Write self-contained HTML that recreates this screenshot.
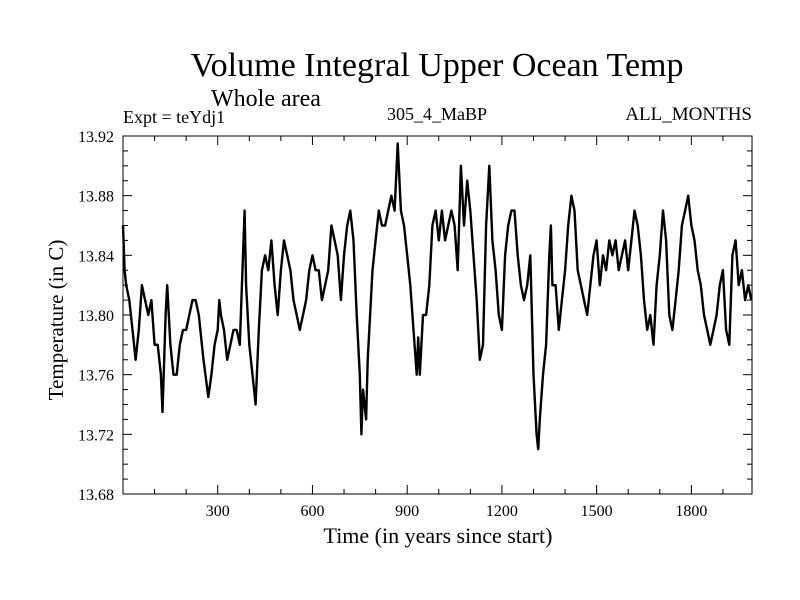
<!DOCTYPE html>
<html><head><meta charset="utf-8"><style>
html,body{margin:0;padding:0;background:#fff}
svg{display:block}
text{font-family:"Liberation Serif",serif;fill:#000}
</style></head><body>
<svg id="chart" width="800" height="600" viewBox="0 0 800 600" xmlns="http://www.w3.org/2000/svg">
<text x="437" y="76" font-size="34" text-anchor="middle">Volume Integral Upper Ocean Temp</text>
<text x="266" y="106" font-size="24" text-anchor="middle">Whole area</text>
<text x="123" y="123" font-size="18">Expt = teYdj1</text>
<text x="437" y="120" font-size="18" text-anchor="middle">305_4_MaBP</text>
<text x="752" y="120" font-size="19" text-anchor="end">ALL_MONTHS</text>
<text x="438" y="543" font-size="22" text-anchor="middle">Time (in years since start)</text>
<text x="0" y="0" font-size="21" text-anchor="middle" transform="translate(63,320) rotate(-90)">Temperature (in C)</text>
<g id="axes"></g>
<rect x="123" y="136" width="629" height="358" fill="none" stroke="#000" stroke-width="1"/>
<path id="series" fill="none" stroke="#000" stroke-width="2.4" stroke-linejoin="round"/>
</svg>
<script>
const years = [0,5,10,20,30,40,50,60,70,80,90,100,110,120,125,135,140,150,160,170,180,190,200,210,220,230,240,250,255,270,280,290,300,305,310,320,330,340,350,360,370,380,385,390,400,410,420,430,440,450,460,470,480,490,500,510,520,530,540,550,560,570,580,590,600,610,620,630,640,650,660,670,680,690,700,710,720,730,740,750,755,760,770,775,780,790,800,810,820,830,840,850,860,870,880,890,900,910,920,930,935,940,950,960,970,980,990,1000,1010,1020,1030,1040,1050,1060,1070,1080,1090,1100,1110,1120,1130,1140,1150,1160,1170,1180,1190,1200,1210,1220,1230,1240,1250,1260,1270,1280,1290,1300,1310,1315,1320,1330,1340,1350,1355,1360,1370,1380,1390,1400,1410,1420,1430,1440,1450,1460,1470,1480,1490,1500,1510,1520,1530,1540,1550,1560,1570,1580,1590,1600,1610,1620,1630,1640,1650,1660,1670,1680,1690,1700,1710,1720,1730,1740,1750,1760,1770,1780,1790,1800,1810,1820,1830,1840,1850,1860,1870,1880,1890,1900,1910,1920,1930,1940,1950,1960,1970,1980,1990];
const temps = [13.86,13.83,13.82,13.81,13.79,13.77,13.79,13.82,13.81,13.80,13.81,13.78,13.78,13.76,13.735,13.80,13.82,13.78,13.76,13.76,13.78,13.79,13.79,13.80,13.81,13.81,13.80,13.78,13.77,13.745,13.76,13.78,13.79,13.81,13.80,13.79,13.77,13.78,13.79,13.79,13.78,13.84,13.87,13.82,13.78,13.76,13.74,13.79,13.83,13.84,13.83,13.85,13.82,13.80,13.83,13.85,13.84,13.83,13.81,13.80,13.79,13.80,13.81,13.83,13.84,13.83,13.83,13.81,13.82,13.83,13.86,13.85,13.84,13.81,13.84,13.86,13.87,13.85,13.80,13.76,13.72,13.75,13.73,13.77,13.79,13.83,13.85,13.87,13.86,13.86,13.87,13.88,13.87,13.915,13.87,13.86,13.84,13.82,13.79,13.76,13.785,13.76,13.80,13.80,13.82,13.86,13.87,13.85,13.87,13.85,13.86,13.87,13.86,13.83,13.90,13.86,13.89,13.87,13.84,13.81,13.77,13.78,13.86,13.90,13.85,13.83,13.80,13.79,13.84,13.86,13.87,13.87,13.84,13.82,13.81,13.82,13.84,13.76,13.72,13.71,13.73,13.76,13.78,13.84,13.86,13.82,13.82,13.79,13.81,13.83,13.86,13.88,13.87,13.83,13.82,13.81,13.80,13.82,13.84,13.85,13.82,13.84,13.83,13.85,13.84,13.85,13.83,13.84,13.85,13.83,13.85,13.87,13.86,13.84,13.81,13.79,13.80,13.78,13.82,13.84,13.87,13.85,13.80,13.79,13.81,13.83,13.86,13.87,13.88,13.86,13.85,13.83,13.82,13.80,13.79,13.78,13.79,13.80,13.82,13.83,13.79,13.78,13.84,13.85,13.82,13.83,13.81,13.82,13.81];
const xTickLabels = [300,600,900,1200,1500,1800];
const yTickLabels = [13.68,13.72,13.76,13.80,13.84,13.88,13.92];

const X0=123, X1=752, Y0=494, Y1=136;
const xDomain=[0,1992], yDomain=[13.68,13.92];
function xs(v){return X0+(v-xDomain[0])/(xDomain[1]-xDomain[0])*(X1-X0);}
function ys(v){return Y0-(v-yDomain[0])/(yDomain[1]-yDomain[0])*(Y0-Y1);}
const NS="http://www.w3.org/2000/svg";
const axes=document.getElementById('axes');
function line(x1,y1,x2,y2,name){
  const l=document.createElementNS(NS,'line');
  l.setAttribute('x1',x1);l.setAttribute('y1',y1);l.setAttribute('x2',x2);l.setAttribute('y2',y2);
  l.setAttribute('stroke','#000');l.setAttribute('stroke-width','1');
  
  
  axes.appendChild(l);
}
function label(x,y,str,anchor,name){
  const t=document.createElementNS(NS,'text');
  t.setAttribute('x',x);t.setAttribute('y',y);t.setAttribute('font-size','16');t.setAttribute('text-anchor',anchor);
  t.textContent=str;
  
  
  axes.appendChild(t);
}
for(let v=100;v<xDomain[1];v+=100){
  const major=v%300===0, len=major?9:5, x=xs(v);
  line(x,Y0,x,Y0-len,'x-tick');
  line(x,Y1,x,Y1+len,'x-tick-top');
}
xTickLabels.forEach(v=>label(xs(v),516,String(v),'middle','x-tick-label'));
for(let i=0;i<=24;i++){
  const v=13.68+i*0.01, major=i%4===0, len=major?9:5, y=ys(v);
  line(X0,y,X0+len,y,'y-tick');
  line(X1,y,X1-len,y,'y-tick-right');
}
yTickLabels.forEach(v=>label(114,ys(v)+6,v.toFixed(2),'end','y-tick-label'));
let d='';
years.forEach((yr,i)=>{d+=(i?'L':'M')+xs(yr).toFixed(1)+' '+ys(temps[i]).toFixed(1);});
document.getElementById('series').setAttribute('d',d);
</script>
</body></html>
